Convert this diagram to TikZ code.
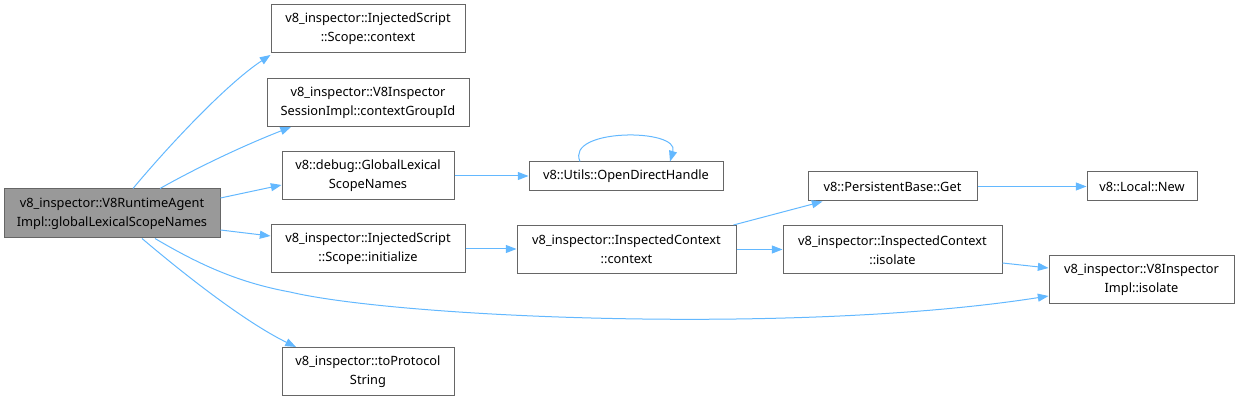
\documentclass[tikz,border=0pt]{standalone}
\usepackage{fontspec}
\setmainfont{Noto Sans}
\usetikzlibrary{arrows.meta,calc}

\definecolor{edgeblue}{HTML}{63B8FF}
\definecolor{boxgray}{HTML}{666666}
\definecolor{maingray}{HTML}{999999}

\tikzset{
  fnbox/.style={draw=boxgray, fill=white, line width=0.75pt, align=center, inner sep=0pt,
    font=\fontsize{9.6}{14.2}\selectfont, minimum height=36pt},
  onebox/.style={fnbox, minimum height=21.75pt},
  mainbox/.style={fnbox, fill=maingray},
  call/.style={draw=edgeblue, line width=0.75pt, -{Triangle[length=8pt,width=6pt]}}
}

\begin{document}
\begin{tikzpicture}[x=0.75pt, y=-0.75pt]
  \useasboundingbox (0,0) rectangle (1239,402);

  % Caller
  \node[mainbox, minimum width=162pt, minimum height=36.75pt] (agent) at (112,213.5)
    {v8\_inspector::V8RuntimeAgent\\Impl::globalLexicalScopeNames};

  % First level callees
  \node[fnbox, minimum width=145.5pt] (scopectx) at (368,29)
    {v8\_inspector::InjectedScript\\::Scope::context};
  \node[fnbox, minimum width=151.5pt] (groupid) at (368,103)
    {v8\_inspector::V8Inspector\\SessionImpl::contextGroupId};
  \node[fnbox, minimum width=129pt] (lexnames) at (368,176)
    {v8::debug::GlobalLexical\\ScopeNames};
  \node[fnbox, minimum width=145.5pt] (scopeinit) at (368,249)
    {v8\_inspector::InjectedScript\\::Scope::initialize};
  \node[fnbox, minimum width=129pt] (toproto) at (368,372)
    {v8\_inspector::toProtocol\\String};

  % Second level
  \node[onebox, minimum width=145.5pt] (opendirect) at (626,176.5)
    {v8::Utils::OpenDirectHandle};
  \node[fnbox, minimum width=164.25pt] (inspctx) at (626.5,249.5)
    {v8\_inspector::InspectedContext\\::context};

  % Third level
  \node[onebox, minimum width=126.75pt] (persget) at (892.5,186.5)
    {v8::PersistentBase::Get};
  \node[fnbox, minimum width=164.25pt] (ctxiso) at (892.5,250)
    {v8\_inspector::InspectedContext\\::isolate};

  % Fourth level
  \node[onebox, minimum width=82.5pt] (localnew) at (1142,186.5)
    {v8::Local::New};
  \node[fnbox, minimum width=138.75pt] (implisol) at (1141.5,280)
    {v8\_inspector::V8Inspector\\Impl::isolate};

  % Calls from the caller
  \draw[call] ($(agent.north)+(21,0)$) .. controls (165,150) and (225,85) .. (scopectx.south west |- 0,55);
  \draw[call] ($(agent.north)+(48,0)$) .. controls (200,166) and (245,145) .. (291,127);
  \draw[call] (agent.east |- 0,198) -- (lexnames.west |- 0,185);
  \draw[call] (agent.east |- 0,230) -- (scopeinit.west |- 0,236);
  \draw[call] ($(agent.south)+(43,0)$) .. controls (195,262) and (235,282) .. (290,292)
    .. controls (400,318) and (800,335) .. (implisol.west |- 0,296);
  \draw[call] ($(agent.south)+(30,0)$) .. controls (185,275) and (245,322) .. (296,347);

  % Calls further down
  \draw[call] (lexnames.east) -- (opendirect.west |- lexnames.east);
  \draw[call] ($(opendirect.north)+(-46,0)$) .. controls (565,128) and (680,128) .. ($(opendirect.north)+(44,0)$);
  \draw[call] (scopeinit.east) -- (inspctx.west |- scopeinit.east);
  \draw[call] ($(inspctx.north)+(107,0)$) -- ($(persget.south west)+(15,0)$);
  \draw[call] (inspctx.east) -- (ctxiso.west |- inspctx.east);
  \draw[call] (persget.east) -- (localnew.west);
  \draw[call] (ctxiso.east |- 0,263) -- (implisol.west |- 0,268);
\end{tikzpicture}
\end{document}
